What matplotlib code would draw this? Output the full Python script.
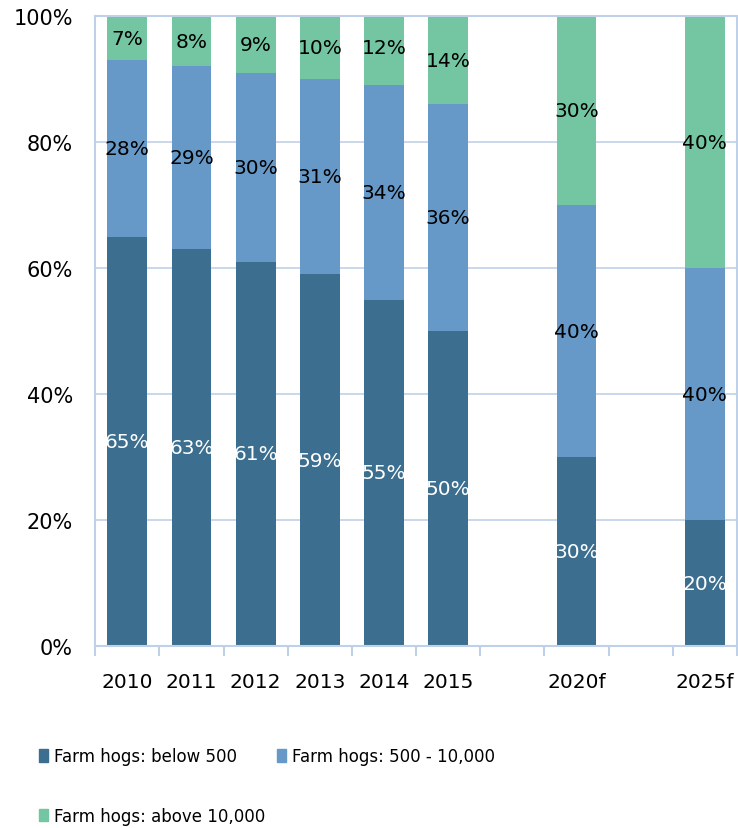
import matplotlib
matplotlib.use("Agg")
import matplotlib.pyplot as plt
from matplotlib.patches import Patch

years = ["2010", "2011", "2012", "2013", "2014", "2015", "2020f", "2025f"]
slots = [0, 1, 2, 3, 4, 5, 7, 9]  # 2020f and 2025f sit after empty slots
below_500 = [65, 63, 61, 59, 55, 50, 30, 20]
mid_500_10k = [28, 29, 30, 31, 34, 36, 40, 40]
above_10k = [7, 8, 9, 10, 12, 14, 30, 40]
series_names = ["Farm hogs: below 500", "Farm hogs: 500 - 10,000", "Farm hogs: above 10,000"]
colors = ["#3C6E8F", "#6699C8", "#73C6A1"]
label_colors = ["white", "black", "black"]

fig = plt.figure(figsize=(7.38, 8.29), dpi=100)
ax = fig.add_axes([0.129, 0.2195, 0.8695, 0.76])

bottoms = [0] * len(years)
for vals, col, lc in zip([below_500, mid_500_10k, above_10k], colors, label_colors):
    ax.bar(slots, vals, width=0.62, bottom=bottoms, color=col, zorder=2)
    for x, b, v in zip(slots, bottoms, vals):
        ax.text(x, b + v / 2, f"{v}%", ha="center", va="center", color=lc, fontsize=14.5, zorder=3)
    bottoms = [b + v for b, v in zip(bottoms, vals)]

gridc = "#bfd1e8"
ax.set_xlim(-0.5, 9.5)
ax.set_ylim(0, 100)
ax.set_yticks(range(0, 101, 20))
ax.set_yticklabels([f"{t}%" for t in range(0, 101, 20)])
ax.set_xticks(slots)
ax.set_xticklabels(years)
ax.set_xticks([i - 0.5 for i in range(11)], minor=True)
ax.tick_params(axis="x", which="major", length=0, pad=19, labelsize=14.5)
ax.tick_params(axis="x", which="minor", length=7, color=gridc, width=1.5)
ax.tick_params(axis="y", length=0, pad=16, labelsize=15)
ax.yaxis.grid(True, color=gridc, linewidth=1.2, zorder=0)
for s in ax.spines.values():
    s.set_color(gridc)
    s.set_linewidth(1.5)

# legend entries laid out row by row like the original
legend_spots = [(0.053, 0.0865), (0.375, 0.0865), (0.053, 0.0145)]
for name, col, (lx, ly) in zip(series_names, colors, legend_spots):
    fig.legend([Patch(color=col)], [name], loc="center left", bbox_to_anchor=(lx, ly),
               frameon=False, fontsize=12, handlelength=0.55, handleheight=0.75,
               handletextpad=0.35, borderaxespad=0, borderpad=0)

fig.savefig("out.png", dpi=100)
